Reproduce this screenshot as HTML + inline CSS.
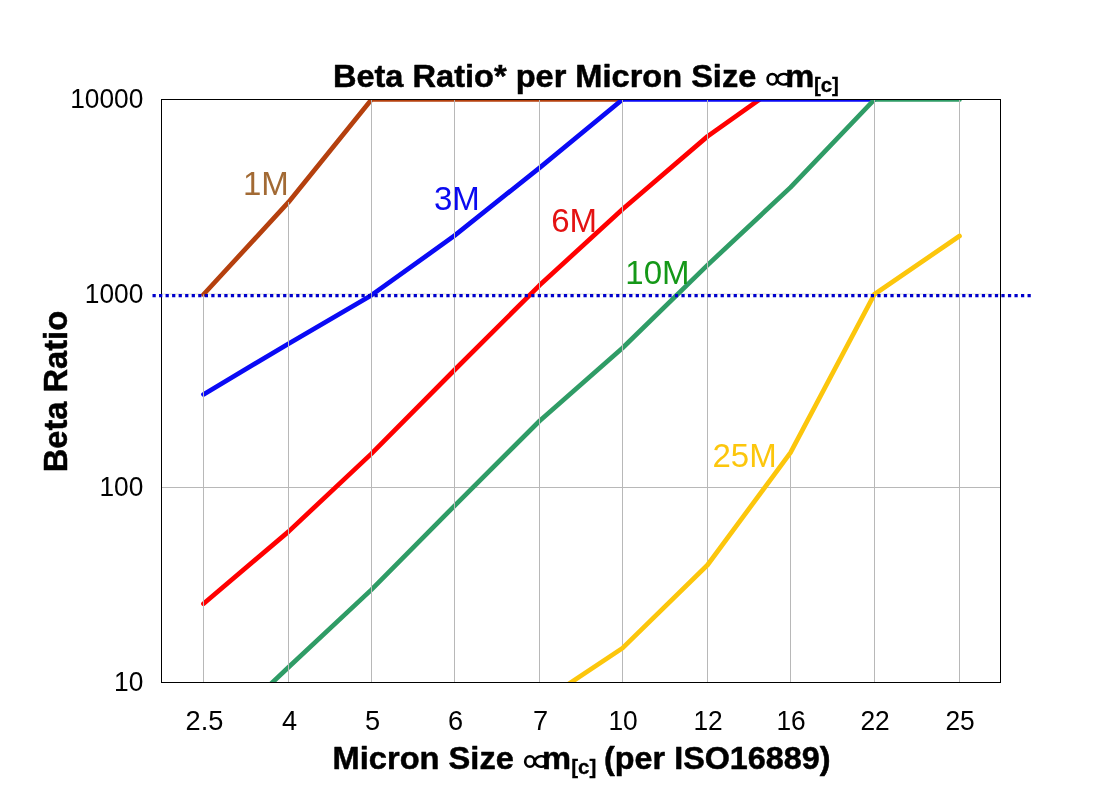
<!DOCTYPE html>
<html><head><meta charset="utf-8"><title>Beta Ratio per Micron Size</title>
<style>
html,body{margin:0;padding:0;background:#fff;}
body{width:1106px;height:794px;overflow:hidden;font-family:"Liberation Sans",sans-serif;}
svg{display:block;will-change:transform;}
text{font-family:"Liberation Sans",sans-serif;}
.b{font-weight:bold;font-size:31.4px;fill:#000;stroke:#000;stroke-width:0.5px;stroke-linejoin:round;}
.sub{font-weight:bold;font-size:20.5px;fill:#000;stroke:#000;stroke-width:0.3px;}
.tick{font-size:27.2px;fill:#000;}
.lab{font-size:33px;}
</style></head><body>
<svg width="1106" height="794" viewBox="0 0 1106 794">
<rect width="1106" height="794" fill="#fff"/>
<defs><clipPath id="plot"><rect x="161.5" y="100.0" width="839.0" height="582.5"/></clipPath></defs>
<g stroke="#b8b8b8" stroke-width="1"><line x1="161.5" y1="487.5" x2="1000.5" y2="487.5"/><line x1="161.5" y1="294" x2="1000.5" y2="294" stroke="#dedede"/></g>
<g clip-path="url(#plot)">
<polyline points="203.5,294.5 288.5,202.2 371.5,99.5 622.5,99.5" fill="none" stroke="#B5400E" stroke-width="4.7" stroke-linejoin="round" stroke-linecap="round"/>
<polyline points="203.5,603.8 288.5,531.6 371.5,453.6 454.5,370.0 539.5,285.3 622.5,209.2 707.5,136.4 790.5,77.5" fill="none" stroke="#FF0000" stroke-width="4.7" stroke-linejoin="round" stroke-linecap="round"/>
<polyline points="203.5,394.4 288.5,343.7 371.5,295.2 454.5,235.7 539.5,167.8 622.5,99.5 874.5,99.5" fill="none" stroke="#0A0AF5" stroke-width="4.7" stroke-linejoin="round" stroke-linecap="round"/>
<polyline points="203.5,747.3 288.5,667.3 371.5,589.6 454.5,505.8 539.5,421.0 622.5,348.0 707.5,265.1 790.5,187.4 874.5,99.5 959.5,99.5" fill="none" stroke="#2F9C66" stroke-width="4.7" stroke-linejoin="round" stroke-linecap="round"/>
</g>
<g stroke="#b8b8b8" stroke-width="1"><line x1="203.5" y1="294.5" x2="203.5" y2="682.5"/><line x1="288.5" y1="202.0" x2="288.5" y2="682.5"/><line x1="371.5" y1="99.5" x2="371.5" y2="682.5"/><line x1="454.5" y1="99.5" x2="454.5" y2="682.5"/><line x1="539.5" y1="99.5" x2="539.5" y2="682.5"/><line x1="622.5" y1="99.5" x2="622.5" y2="682.5"/><line x1="707.5" y1="99.5" x2="707.5" y2="682.5"/><line x1="790.5" y1="453.5" x2="790.5" y2="682.5"/><line x1="874.5" y1="99.5" x2="874.5" y2="682.5"/><line x1="959.5" y1="99.5" x2="959.5" y2="682.5"/></g>
<g clip-path="url(#plot)">
<polyline points="539.5,703.4 622.5,648.1 707.5,565.0 790.5,452.6 874.5,294.2 959.5,236.0" fill="none" stroke="#FCC60C" stroke-width="4.7" stroke-linejoin="round" stroke-linecap="round"/>
</g>
<rect x="161.5" y="99.5" width="839.0" height="583.0" fill="none" stroke="#000" stroke-width="1"/>
<line x1="152.5" y1="295.6" x2="1030.8" y2="295.6" stroke="#0000CC" stroke-width="3.2" stroke-dasharray="3.25 3.28"/>
<!-- title -->
<text class="b" x="332.9" y="86.7" textLength="423.4" lengthAdjust="spacingAndGlyphs">Beta Ratio* per Micron Size</text>
<g fill="none" stroke="#000" stroke-width="2.6"><ellipse cx="772.30" cy="79.20" rx="4.7" ry="5.27"/><path d="M 787.80 75.06 A 6.5 5.27 0 1 0 787.80 83.34"/></g>
<text class="b" x="785.3" y="86.7" textLength="29.05" lengthAdjust="spacingAndGlyphs">m</text>
<text class="sub" x="813.9" y="92.2">[c]</text>
<!-- x axis title -->
<text class="b" x="332.6" y="769" textLength="181.3" lengthAdjust="spacingAndGlyphs">Micron Size</text>
<g fill="none" stroke="#000" stroke-width="2.6"><ellipse cx="529.90" cy="761.50" rx="4.7" ry="5.27"/><path d="M 545.40 757.36 A 6.5 5.27 0 1 0 545.40 765.64"/></g>
<text class="b" x="542.1" y="769" textLength="29.05" lengthAdjust="spacingAndGlyphs">m</text>
<text class="sub" x="571.2" y="773.5">[c]</text>
<text class="b" x="604.1" y="769" textLength="226.4" lengthAdjust="spacingAndGlyphs">(per ISO16889)</text>
<!-- y axis title -->
<text class="b" style="font-size:32.67px" transform="translate(67.3,391.6) rotate(-90)" text-anchor="middle">Beta Ratio</text>
<g class="tick" text-anchor="middle"><text x="204.5" y="729.7">2.5</text><text x="289.5" y="729.7">4</text><text x="372.5" y="729.7">5</text><text x="455.5" y="729.7">6</text><text x="540.5" y="729.7">7</text><text x="623.1" y="729.7" textLength="29.3" lengthAdjust="spacingAndGlyphs">10</text><text x="708.1" y="729.7" textLength="29.3" lengthAdjust="spacingAndGlyphs">12</text><text x="791.1" y="729.7" textLength="29.3" lengthAdjust="spacingAndGlyphs">16</text><text x="875.1" y="729.7" textLength="29.3" lengthAdjust="spacingAndGlyphs">22</text><text x="960.1" y="729.7" textLength="29.3" lengthAdjust="spacingAndGlyphs">25</text></g>
<g class="tick" text-anchor="end"><text x="143.3" y="107.6" textLength="73.1" lengthAdjust="spacingAndGlyphs" style="font-size:27.6px">10000</text><text x="143.3" y="302.7" textLength="58.5" lengthAdjust="spacingAndGlyphs" style="font-size:27.6px">1000</text><text x="143.3" y="495.7" textLength="43.9" lengthAdjust="spacingAndGlyphs" style="font-size:27.6px">100</text><text x="143.3" y="690.7" textLength="29.3" lengthAdjust="spacingAndGlyphs" style="font-size:27.6px">10</text></g>
<g class="lab">
<text x="243" y="194.7" fill="#A26A34">1M</text>
<text x="434" y="209.7" fill="#0A0AF0">3M</text>
<text x="551.2" y="231.8" fill="#E41212">6M</text>
<text x="625.3" y="283.7" fill="#159818">10M</text>
<text x="712.5" y="466.8" fill="#FCC60C">25M</text>
</g>
</svg>
</body></html>
